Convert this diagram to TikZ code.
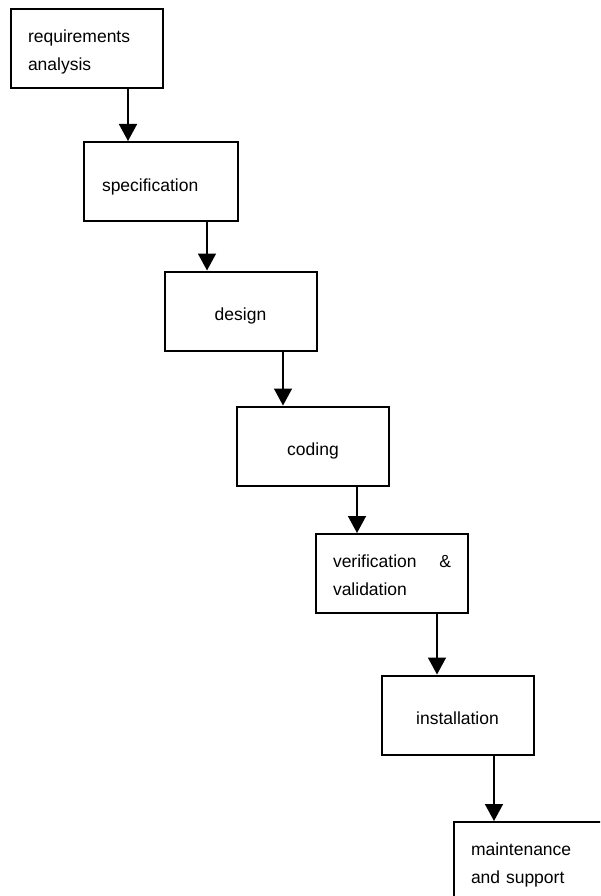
\documentclass[tikz,border=0pt]{standalone}
\usepackage{fontspec}
\setmainfont{Liberation Sans}
\usetikzlibrary{arrows.meta}
\begin{document}
\begin{tikzpicture}[x=1pt,y=-1pt,
  stage/.style={draw, line width=2pt, rectangle, minimum width=152pt,
    minimum height=79pt, inner xsep=17pt, inner ysep=0pt,
    font=\fontsize{17.5}{28}\selectfont},
  oneline/.style={stage, text height=23pt, text depth=4pt},
  twoline/.style={stage, text width=118pt, align=left,
    text height=18pt, text depth=31pt},
  flow/.style={line width=1.6pt, -{Triangle[width=18pt,length=17pt]}}]
\path[use as bounding box, clip] (0,0) rectangle (600,896);

% the stages of the waterfall
\node[twoline] (req) at (87,49) {requirements\\analysis};
\node[oneline, text width=118pt, align=left, minimum width=154pt] (spec) at (161,181.5) {specification};
\node[oneline] (design) at (240.5,311) {design};
\node[oneline] (coding) at (313,446) {coding};
\node[twoline] (vv) at (392,573.5) {verification\hfill\&\\validation};
\node[oneline] (inst) at (457.5,715) {installation};
% the last stage runs on past the right and bottom edges
\node[twoline, text width=200pt, anchor=north west] (maint) at (453,821) {maintenance\\and support};

% columns of the connecting arrows
\coordinate (c1) at (128,0);
\coordinate (c2) at (207,0);
\coordinate (c3) at (283,0);
\coordinate (c4) at (357,0);
\coordinate (c5) at (437,0);
\coordinate (c6) at (494,0);

\draw[flow] (req.south -| c1) -- (spec.north -| c1);
\draw[flow] (spec.south -| c2) -- (design.north -| c2);
\draw[flow] (design.south -| c3) -- (coding.north -| c3);
\draw[flow] (coding.south -| c4) -- (vv.north -| c4);
\draw[flow] (vv.south -| c5) -- (inst.north -| c5);
\draw[flow] (inst.south -| c6) -- (maint.north -| c6);
\end{tikzpicture}
\end{document}
